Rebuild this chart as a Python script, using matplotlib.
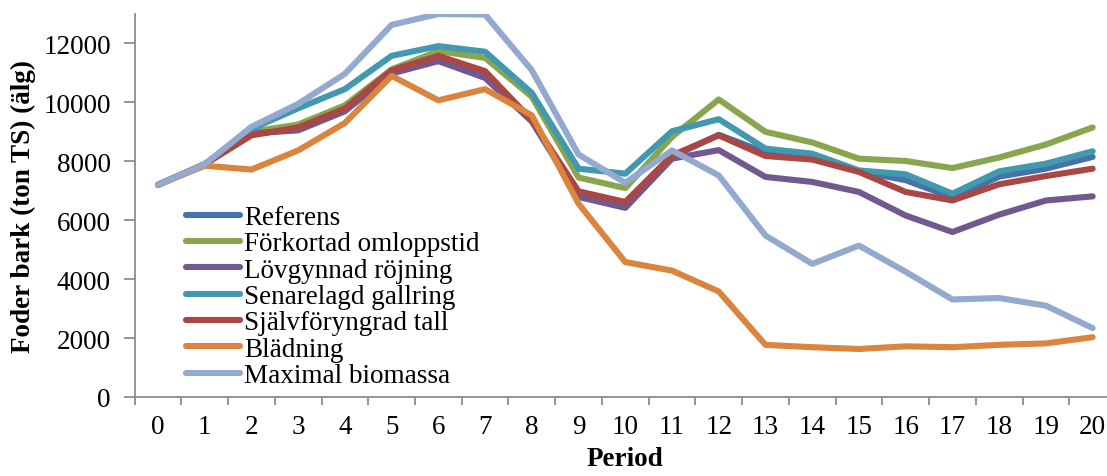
import matplotlib
matplotlib.use("Agg")
import matplotlib.pyplot as plt
import numpy as np

periods = list(range(21))
period_labels = [str(p) for p in periods]

referens = [7200, 7900, 8950, 9080, 9720, 11000, 11450, 10900, 9380, 6880, 6550,
            8150, 8900, 8300, 8190, 7660, 7360, 6770, 7480, 7750, 8150]
forkortad = [7200, 7900, 9000, 9250, 9900, 11120, 11740, 11510, 10190, 7450, 7090,
             8830, 10100, 9000, 8640, 8090, 8010, 7770, 8130, 8570, 9150]
lovgynnad = [7200, 7900, 8950, 9050, 9700, 10980, 11400, 10830, 9350, 6790, 6420,
             8090, 8380, 7470, 7300, 6960, 6160, 5600, 6190, 6670, 6810]
senarelagd = [7200, 7900, 9100, 9800, 10450, 11580, 11910, 11720, 10320, 7750, 7580,
              9020, 9430, 8430, 8260, 7690, 7560, 6900, 7660, 7920, 8340]
sjalvforyngrad = [7200, 7900, 8880, 9150, 9790, 11090, 11580, 11060, 9400, 6980, 6620,
                  8200, 8880, 8180, 8060, 7640, 6960, 6670, 7220, 7500, 7750]
bladning = [7200, 7850, 7720, 8370, 9300, 10900, 10070, 10450, 9560, 6560, 4580,
            4290, 3580, 1770, 1690, 1630, 1720, 1690, 1770, 1820, 2030]
maximal = [7200, 7900, 9170, 9950, 10970, 12630, 13000, 12980, 11090, 8230, 7270,
           8370, 7520, 5480, 4520, 5140, 4250, 3310, 3360, 3100, 2340]

series = [
    ("Referens", referens, "#4572A7"),
    ("Förkortad omloppstid", forkortad, "#89A54E"),
    ("Lövgynnad röjning", lovgynnad, "#71588F"),
    ("Senarelagd gallring", senarelagd, "#4198AF"),
    ("Självföryngrad tall", sjalvforyngrad, "#AA4643"),
    ("Blädning", bladning, "#DB843D"),
    ("Maximal biomassa", maximal, "#93A9CF"),
]

plt.rcParams["font.family"] = ["Liberation Serif", "DejaVu Serif"]
FS = 19.5
AXIS_GREY = "#8c8c8c"

fig = plt.figure(figsize=(11.07, 4.77), dpi=100)
ax = fig.add_axes([134.6 / 1107, (477 - 398) / 477, (1116 - 134.6) / 1107, (398 - 15) / 477])

for name, vals, color in series:
    ax.plot(periods, vals, color=color, lw=4.4, label=name, solid_capstyle="round",
            solid_joinstyle="round")

ax.set_xlim(-0.5, 20.5)
ax.set_ylim(0, 13000)

# category boundaries carry the tick marks, labels sit at category centres
ax.set_xticks(np.arange(-0.5, 21, 1.0))
ax.set_xticklabels([])
ax.set_xticks(periods, minor=True)
ax.set_xticklabels(period_labels, minor=True, fontsize=FS)
ax.tick_params(axis="x", which="major", direction="out", length=6, width=1.3, color=AXIS_GREY)
ax.tick_params(axis="x", which="minor", length=0, pad=12)

ax.set_yticks(range(0, 12001, 2000))
ax.set_yticklabels([str(v) for v in range(0, 12001, 2000)], fontsize=FS)
ax.tick_params(axis="y", direction="out", length=8, width=1.3, color=AXIS_GREY, pad=9)

for side in ("top", "right"):
    ax.spines[side].set_visible(False)
for side in ("left", "bottom"):
    ax.spines[side].set_color(AXIS_GREY)
    ax.spines[side].set_linewidth(1.3)

ax.set_xlabel("Period", fontsize=FS, fontweight="bold")
ax.xaxis.set_label_coords(0.5, -0.128)
ax.set_ylabel("Foder bark (ton TS) (älg)", fontsize=FS, fontweight="bold")
ax.yaxis.set_label_coords(-0.1, 0.5)

leg = ax.legend(loc="upper left", bbox_to_anchor=(186 / 1107, 1 - 206 / 477),
                bbox_transform=fig.transFigure, frameon=False, fontsize=FS,
                handlelength=2.0, handletextpad=0.15, labelspacing=0.05,
                borderpad=0.0, borderaxespad=0.0)
for line in leg.get_lines():
    line.set_linewidth(4.4)
    line.set_solid_capstyle("round")

fig.savefig("out.png", dpi=100)
